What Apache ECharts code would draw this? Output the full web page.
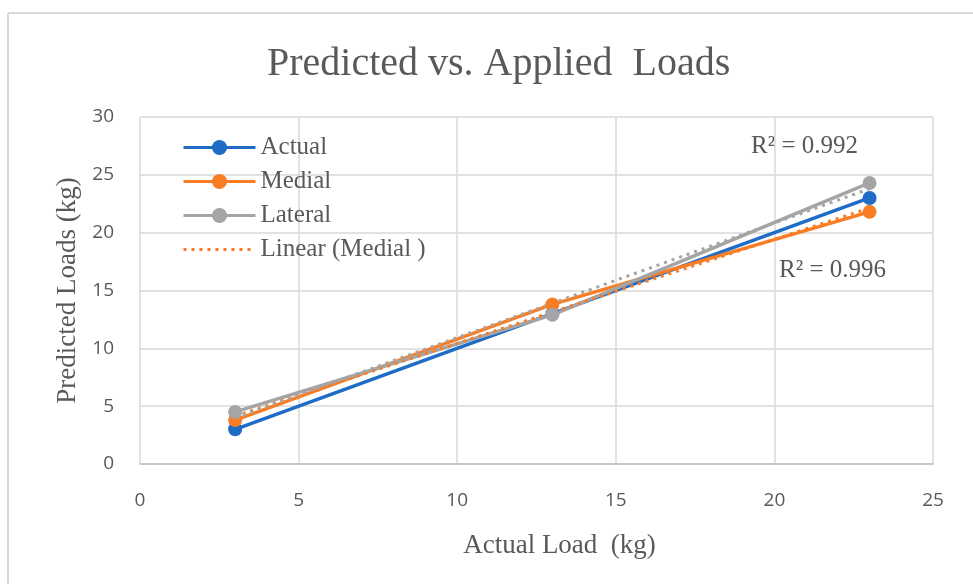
<!DOCTYPE html>
<html><head><meta charset="utf-8">
<script src="https://cdn.jsdelivr.net/npm/echarts@6/dist/echarts.min.js"></script>
<style>html,body{margin:0;padding:0;background:#fff}#c{width:973px;height:584px}</style>
</head><body><div id="c"></div>
<script>
const actualLoad = [3, 13, 23];
const actualPred = [3, 13, 23];
const medialPred = [3.8, 13.8, 21.8];
const lateralPred = [4.5, 12.9, 24.3];
const xTicks = [0, 5, 10, 15, 20, 25];
const yTicks = [0, 5, 10, 15, 20, 25, 30];
const r2Lateral = 'R² = 0.992';
const r2Medial = 'R² = 0.996';

function pairs(xs, ys){ return xs.map((x,i)=>[x, ys[i]]); }
function linFit(xs, ys){
  const n = xs.length, mx = xs.reduce((a,b)=>a+b)/n, my = ys.reduce((a,b)=>a+b)/n;
  let sxy=0, sxx=0; xs.forEach((x,i)=>{sxy+=(x-mx)*(ys[i]-my); sxx+=(x-mx)*(x-mx);});
  const b = sxy/sxx, a = my - b*mx;
  const x0 = Math.min(...xs), x1 = Math.max(...xs);
  return [[x0, a+b*x0],[x1, a+b*x1]];
}

const serif = '"Liberation Serif", "DejaVu Serif", serif';
const sans = '"Open Sans", "Noto Sans", sans-serif';
const txt = '#595959';
const BLUE = '#1f6cc6', ORANGE = '#f97d25', GRAY = '#a5a5a5';

const chart = echarts.init(document.getElementById('c'));
chart.setOption({
  animation: false,
  title: { text: 'Predicted vs. Applied  Loads', left: 262, top: 39,
    textStyle: { fontFamily: serif, fontSize: 40, fontWeight: 'normal', color: txt } },
  grid: { left: 140, right: 40, top: 117, bottom: 120 },
  legend: {
    data: ['Actual', 'Medial', 'Lateral',
      { name: 'Linear (Medial )', itemStyle: { color: 'rgba(0,0,0,0)', borderWidth: 0 } }],
    orient: 'vertical', left: 177, top: 130, itemWidth: 72, itemHeight: 19, itemGap: 9,
    lineStyle: { width: 3 },
    textStyle: { fontFamily: serif, fontSize: 25, color: txt }
  },
  xAxis: { type: 'value', min: 0, max: 25, interval: 5,
    name: 'Actual Load  (kg)', nameLocation: 'middle', nameGap: 68,
    nameTextStyle: { fontFamily: serif, fontSize: 27, color: txt, padding: [0, 0, 0, 46] },
    axisLine: { show: true, lineStyle: { color: '#bfbfbf', width: 1.5 } }, axisTick: { show: false },
    axisLabel: { fontFamily: sans, fontSize: 19, color: txt, margin: 27 },
    splitLine: { show: true, lineStyle: { color: '#d9d9d9', width: 1.5 } } },
  yAxis: { type: 'value', min: 0, max: 30, interval: 5,
    name: 'Predicted Loads (kg)', nameLocation: 'middle', nameGap: 57,
    nameTextStyle: { fontFamily: serif, fontSize: 27, color: txt },
    axisLine: { show: false }, axisTick: { show: false },
    axisLabel: { fontFamily: sans, fontSize: 19, color: txt, margin: 26 },
    splitLine: { show: true, lineStyle: { color: '#d9d9d9', width: 1.5 } } },
  graphic: [
    { type: 'line', shape: { x1: 8, y1: 13, x2: 973, y2: 13 }, style: { stroke: '#d9d9d9', lineWidth: 2 } },
    { type: 'line', shape: { x1: 8, y1: 13, x2: 8, y2: 584 }, style: { stroke: '#d9d9d9', lineWidth: 2 } },
    { type: 'text', left: 751, top: 134, style: { text: r2Lateral, font: '25px ' + serif, fill: txt } },
    { type: 'text', left: 779, top: 258, style: { text: r2Medial, font: '25px ' + serif, fill: txt } }
  ],
  series: [
    { name: 'Actual', type: 'line', data: pairs(actualLoad, actualPred), symbol: 'circle', symbolSize: 14,
      lineStyle: { color: BLUE, width: 3.5 }, itemStyle: { color: BLUE } },
    { name: 'Medial', type: 'line', data: pairs(actualLoad, medialPred), symbol: 'circle', symbolSize: 14,
      lineStyle: { color: ORANGE, width: 3.5 }, itemStyle: { color: ORANGE } },
    { name: 'Lateral', type: 'line', data: pairs(actualLoad, lateralPred), symbol: 'circle', symbolSize: 14,
      lineStyle: { color: GRAY, width: 3.5 }, itemStyle: { color: GRAY } },
    { name: 'Linear (Medial )', type: 'line', data: linFit(actualLoad, medialPred), symbol: 'none',
      lineStyle: { color: ORANGE, width: 3, type: [3, 5] }, itemStyle: { color: ORANGE } },
    { name: 'Linear (Lateral )', type: 'line', data: linFit(actualLoad, lateralPred), symbol: 'none',
      lineStyle: { color: GRAY, width: 3, type: [3, 5] }, itemStyle: { color: GRAY } }
  ]
});
</script></body></html>
